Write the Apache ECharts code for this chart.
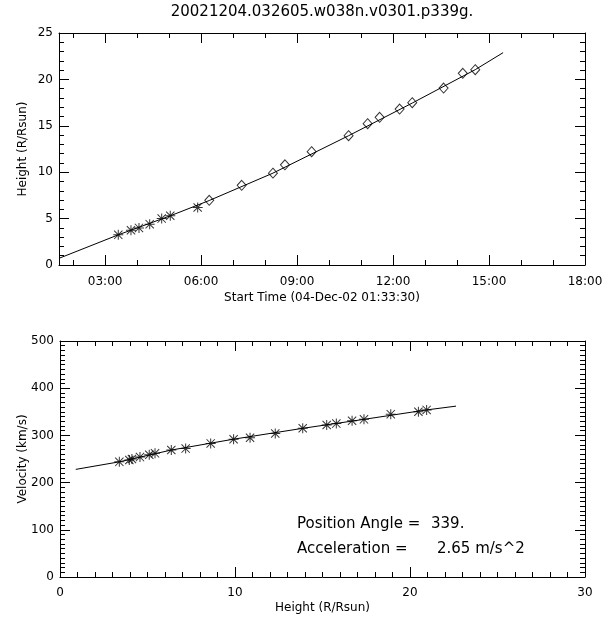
<!DOCTYPE html>
<html>
<head>
<meta charset="utf-8">
<script src="https://cdn.jsdelivr.net/npm/echarts@6/dist/echarts.min.js"></script>
<style>html,body{margin:0;padding:0;background:#fff;}#chart{width:608px;height:618px;}</style>
</head>
<body>
<div id="chart"></div>
<script>
// ---- data ----
const titleText = '20021204.032605.w038n.v0301.p339g.';
const startLabel = 'Start Time (04-Dec-02 01:33:30)';
const startHour = 1.5583; // 01:33:30
const endHour = 18;
const timeTickHours = [3, 6, 9, 12, 15, 18];
const timeMinorHours = [2, 3, 4, 5, 6, 7, 8, 9, 10, 11, 12, 13, 14, 15, 16, 17, 18];

// C2 (asterisks) height-time measurements
const c2Times   = [3.411, 3.808, 4.058, 4.393, 4.768, 5.036, 5.893];
const c2Heights = [3.25, 3.75, 4.00, 4.40, 5.00, 5.30, 6.20];
// C3 (diamonds) height-time measurements
const c3Times   = [6.255, 7.268, 8.246, 8.621, 9.455, 10.61, 11.205, 11.58, 12.205, 12.60, 13.58, 14.18, 14.57];
const c3Heights = [6.97, 8.59, 9.90, 10.80, 12.21, 13.93, 15.23, 15.91, 16.81, 17.49, 19.07, 20.66, 21.05];
// fitted height-time curve
const fitTimes   = [1.5583, 3.411, 5.036, 6.255, 8.246, 10.61, 12.60, 14.57, 15.44];
const fitHeights = [0.72, 3.25, 5.30, 6.95, 9.90, 13.93, 17.45, 21.05, 22.88];

// velocity vs height
const velHeights = [3.39, 3.96, 4.11, 4.57, 5.10, 5.43, 6.36, 7.18, 8.61, 9.92, 10.86, 12.30, 13.87, 15.24, 15.79, 16.69, 17.37, 18.90, 20.48, 20.95];
const velValues  = [244, 248, 250, 254, 259, 262, 269, 272, 283, 292, 295, 304, 315, 322, 325, 331, 334, 345, 350, 354];
const velFitHeights = [0.9, 3.39, 6.36, 9.92, 13.87, 17.37, 20.95, 22.63];
const velFitValues  = [228, 244, 269, 292, 315, 334, 354, 362];

const annotationLabels = ['Position Angle =', 'Acceleration ='];
const annotationValues = ['339.', '2.65 m/s^2'];

// ---- chart ----
const FONT = 'DejaVu Sans';
const zip = (a, b) => a.map((v, i) => [v, b[i]]);
const starPath = 'path://M0,4.5L10,4.5L10,5.5L0,5.5Z M4.5,0L5.5,0L5.5,10L4.5,10Z M0.5,1.2L1.2,0.5L9.5,8.8L8.8,9.5Z M8.8,0.5L9.5,1.2L1.2,9.5L0.5,8.8Z';
const pad2 = h => (h < 10 ? '0' : '') + h + ':00';
const TICK = '#000';

const lineAx = { show: true, onZero: false, lineStyle: { color: '#000', width: 1 } };
const noLine = { show: false, onZero: false };
const labelStyle = { color: '#000', fontFamily: FONT, fontSize: 12 };

function timeAxis(pos, major, withLabels) {
  return {
    type: 'value', gridIndex: 0, position: pos, min: startHour, max: endHour,
    axisLine: major ? lineAx : noLine,
    axisTick: { show: true, inside: true, length: major ? 10 : 5, customValues: major ? timeTickHours : timeMinorHours, lineStyle: { color: TICK, width: 1 } },
    axisLabel: withLabels ? Object.assign({ show: true, customValues: timeTickHours, formatter: v => pad2(Math.round(v)), margin: 11 }, labelStyle) : { show: false },
    splitLine: { show: false },
    name: withLabels ? startLabel : '', nameLocation: 'middle', nameGap: 27, nameMoveOverlap: false, nameTextStyle: labelStyle
  };
}
function valAxis(grid, pos, min, max, interval, minorSplit, withLabels, name, gap, margin) {
  return {
    type: 'value', gridIndex: grid, position: pos, min: min, max: max, interval: interval,
    axisLine: lineAx,
    axisTick: { show: true, inside: true, length: 10, lineStyle: { color: TICK, width: 1 } },
    minorTick: { show: true, splitNumber: minorSplit, length: 5, lineStyle: { color: TICK, width: 1 } },
    axisLabel: withLabels ? Object.assign({ show: true, margin: margin }, labelStyle) : { show: false },
    splitLine: { show: false }, minorSplitLine: { show: false },
    name: withLabels ? name : '', nameLocation: 'middle', nameGap: gap, nameMoveOverlap: false, nameTextStyle: labelStyle
  };
}

const textFont = '15px "' + FONT + '"';
const chart = echarts.init(document.getElementById('chart'), null, { renderer: 'canvas' });
chart.setOption({
  animation: false,
  backgroundColor: '#fff',
  grid: [
    { left: 59, top: 33, width: 526, height: 232 },
    { left: 60, top: 341, width: 525, height: 236 }
  ],
  xAxis: [
    timeAxis('bottom', true, true),
    timeAxis('bottom', false, false),
    timeAxis('top', true, false),
    timeAxis('top', false, false),
    valAxis(1, 'bottom', 0, 30, 10, 10, true, 'Height (R/Rsun)', 25, 10),
    valAxis(1, 'top', 0, 30, 10, 10, false)
  ],
  yAxis: [
    valAxis(0, 'left', 0, 25, 5, 5, true, 'Height (R/Rsun)', 30, 6),
    valAxis(0, 'right', 0, 25, 5, 5, false),
    valAxis(1, 'left', 0, 500, 100, 10, true, 'Velocity (km/s)', 31, 6),
    valAxis(1, 'right', 0, 500, 100, 10, false)
  ],
  series: [
    { type: 'line', xAxisIndex: 0, yAxisIndex: 0, data: zip(fitTimes, fitHeights), symbol: 'none', lineStyle: { color: '#000', width: 1 }, z: 2 },
    { type: 'scatter', xAxisIndex: 0, yAxisIndex: 0, data: zip(c2Times, c2Heights), symbol: starPath, symbolSize: 10, itemStyle: { color: '#000' }, z: 3 },
    { type: 'scatter', xAxisIndex: 0, yAxisIndex: 0, data: zip(c3Times, c3Heights), symbol: 'diamond', symbolSize: [9, 10], itemStyle: { color: 'rgba(255,255,255,0)', borderColor: '#000', borderWidth: 1 }, z: 3 },
    { type: 'line', xAxisIndex: 4, yAxisIndex: 2, data: zip(velFitHeights, velFitValues), symbol: 'none', lineStyle: { color: '#000', width: 1 }, z: 2 },
    { type: 'scatter', xAxisIndex: 4, yAxisIndex: 2, data: zip(velHeights, velValues), symbol: starPath, symbolSize: 10, itemStyle: { color: '#000' }, z: 3 }
  ],
  graphic: [
    { type: 'text', x: 322, y: 12, style: { text: titleText, fill: '#000', font: textFont, align: 'center', verticalAlign: 'middle' } },
    { type: 'text', x: 297, y: 524, style: { text: annotationLabels[0], fill: '#000', font: textFont, verticalAlign: 'middle' } },
    { type: 'text', x: 431, y: 524, style: { text: annotationValues[0], fill: '#000', font: textFont, verticalAlign: 'middle' } },
    { type: 'text', x: 297, y: 549, style: { text: annotationLabels[1], fill: '#000', font: textFont, verticalAlign: 'middle' } },
    { type: 'text', x: 437, y: 549, style: { text: annotationValues[1], fill: '#000', font: textFont, verticalAlign: 'middle' } }
  ]
});
</script>
</body>
</html>
